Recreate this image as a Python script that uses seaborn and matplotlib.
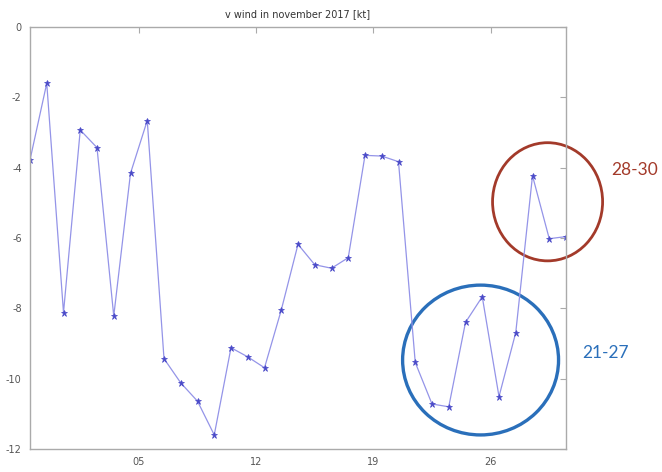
import numpy as np
import pandas as pd
import matplotlib
matplotlib.use("Agg")
import matplotlib.pyplot as plt
import seaborn as sns
from matplotlib.patches import Ellipse

# ---- data ----
v_wind = [-3.78, -1.60, -8.12, -2.93, -3.43, -8.22, -4.16, -2.66, -9.43, -10.12,
          -10.64, -11.60, -9.12, -9.38, -9.69, -8.05, -6.18, -6.76, -6.86, -6.56,
          -3.65, -3.67, -3.83, -9.54, -10.72, -10.80, -8.40, -7.67, -10.51, -8.69,
          -4.23, -6.02, -5.96]
day_pos = np.arange(len(v_wind)) - 1.5          # samples at mid-day, Oct 30 .. Nov 30
tick_pos = [5, 12, 19, 26]
tick_labels = ["05", "12", "19", "26"]
y_ticks = [0, -2, -4, -6, -8, -10, -12]
title = "v wind in november 2017 [kt]"
groups = ["21-27", "28-30"]

df = pd.DataFrame({"day": day_pos, "v": v_wind})

sns.set_style("white")
plt.rcParams['font.family'] = ['DejaVu Sans']

fig = plt.figure(figsize=(6.62, 4.72), dpi=100)
ax = fig.add_axes([30/662, 1-449/472, (566-30)/662, (449-27)/472])

sns.lineplot(data=df, x="day", y="v", ax=ax, color="#9494e8", linewidth=0.9,
             marker="*", markersize=4.5, markerfacecolor="#4a4ac8",
             markeredgecolor="#4a4ac8", markeredgewidth=0.5)

ax.set_xlim(-1.5, 30.5)
ax.set_ylim(-12, 0)
ax.set_xticks(tick_pos)
ax.set_xticklabels(tick_labels)
ax.set_yticks(y_ticks)
ax.set_yticklabels([str(t) for t in y_ticks])
ax.set_xlabel("")
ax.set_ylabel("")
ax.tick_params(direction="in", length=4, width=0.8, colors="#aaaaaa",
               labelcolor="#555555", labelsize=7, top=True, right=True,
               labeltop=False, labelright=False, pad=6)
for s in ax.spines.values():
    s.set_color("#aaaaaa")
    s.set_linewidth(1.0)
ax.set_title(title, fontsize=7, color="#333333", pad=7)

# circles highlighting groups
ax.add_patch(Ellipse((25.4, -9.47), 9.31, 4.26, fill=False, edgecolor="#2a6fba",
                     linewidth=2.4, clip_on=False))
ax.add_patch(Ellipse((29.4, -4.97), 6.57, 3.36, fill=False, edgecolor="#a33a2a",
                     linewidth=2.0, clip_on=False))

fig.text(611/662, 1-170/472, groups[1], color="#a33a2a", fontsize=12.5,
         family=["Lato", "DejaVu Sans"], va="center", ha="left")
fig.text(582/662, 1-353/472, groups[0], color="#2a6fba", fontsize=12.5,
         family=["Lato", "DejaVu Sans"], va="center", ha="left")

fig.savefig("out.png", dpi=100)
